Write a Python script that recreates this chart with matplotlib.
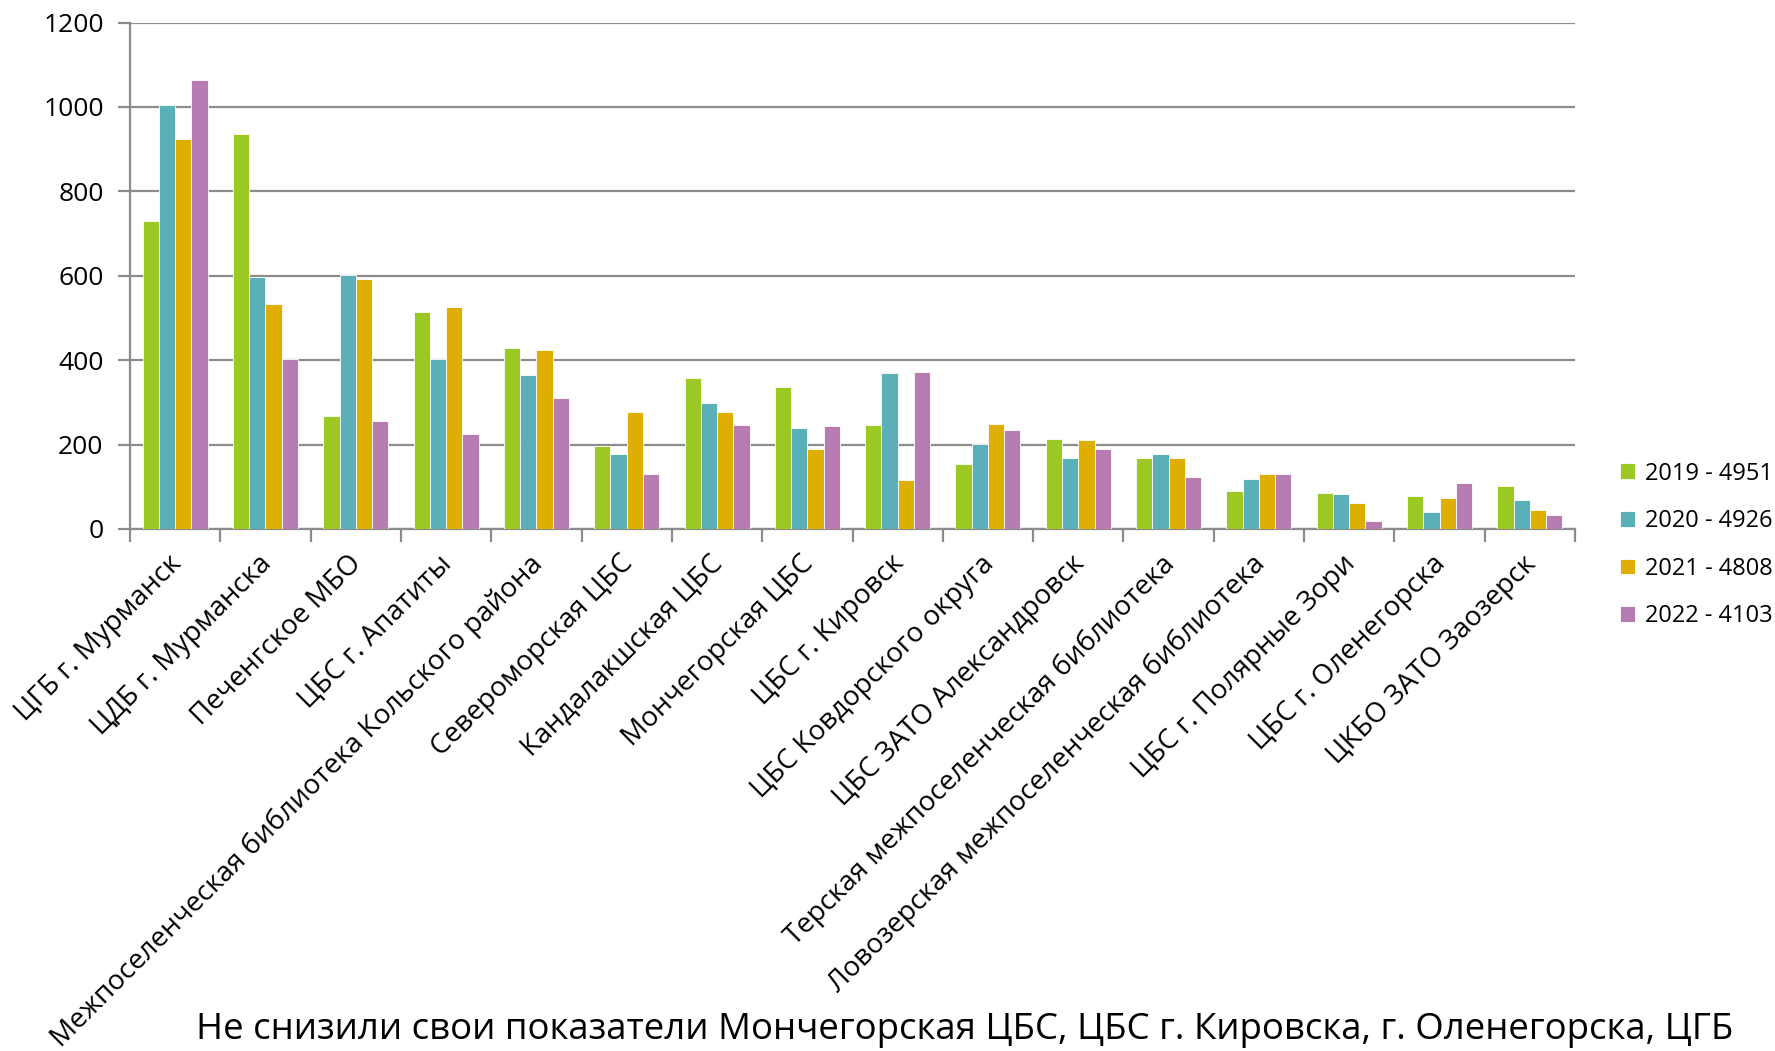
import matplotlib
matplotlib.use("Agg")
import matplotlib.pyplot as plt
import matplotlib.transforms as mtransforms
import numpy as np

plt.rcParams['font.family'] = ['Open Sans', 'DejaVu Sans']

categories = [
    "ЦГБ г. Мурманск", "ЦДБ г. Мурманска", "Печенгское МБО", "ЦБС г. Апатиты",
    "Межпоселенческая библиотека Кольского района", "Североморская ЦБС",
    "Кандалакшская ЦБС", "Мончегорская ЦБС", "ЦБС г. Кировск",
    "ЦБС Ковдорского округа", "ЦБС ЗАТО Александровск",
    "Терская межпоселенческая библиотека", "Ловозерская межпоселенческая библиотека",
    "ЦБС г. Полярные Зори", "ЦБС г. Оленегорска", "ЦКБО ЗАТО Заозерск",
]
series_labels = ["2019 - 4951", "2020 - 4926", "2021 - 4808", "2022 - 4103"]
v2019 = [731, 935, 268, 515, 428, 196, 358, 336, 247, 153, 213, 168, 90, 85, 78, 103]
v2020 = [1005, 598, 603, 403, 366, 177, 298, 240, 369, 202, 168, 177, 119, 82, 40, 68]
v2021 = [923, 534, 592, 525, 423, 277, 278, 189, 115, 249, 211, 168, 130, 62, 74, 45]
v2022 = [1063, 404, 255, 226, 311, 130, 247, 245, 372, 235, 189, 123, 130, 19, 109, 34]
colors = ["#9BC823", "#5BAFB8", "#DEAF00", "#B77CB2"]
title = "Не снизили свои показатели Мончегорская ЦБС, ЦБС г. Кировска, г. Оленегорска, ЦГБ"

W, H = 1775, 1051
fig = plt.figure(figsize=(W / 100, H / 100), dpi=100)
ax = fig.add_axes([130 / W, 1 - 529 / H, (1575 - 130) / W, (529 - 22.6) / H])

x = np.arange(len(categories))
bw = 0.18
for i, (vals, c, lab) in enumerate(zip([v2019, v2020, v2021, v2022], colors, series_labels)):
    ax.bar(x + (i - 1.5) * bw, vals, width=bw, color=c, edgecolor='white',
           linewidth=0.6, label=lab, zorder=3)

ax.set_xlim(-0.5, len(categories) - 0.5)
ax.set_ylim(0, 1200)
ax.set_yticks(np.arange(0, 1201, 200))
ax.yaxis.grid(True, color='#8C8C8C', linewidth=1.6, zorder=0)
ax.set_axisbelow(True)
for s in ['top', 'right']:
    ax.spines[s].set_visible(False)
for s in ['left', 'bottom']:
    ax.spines[s].set_color('#8C8C8C')
    ax.spines[s].set_linewidth(1.6)

ax.set_xticks(np.arange(-0.5, len(categories), 1.0))
ax.set_xticklabels([])
ax.set_xticks(x, minor=True)
ax.set_xticklabels(categories, minor=True, rotation=45, ha='right',
                   rotation_mode='anchor', fontsize=20)
ax.tick_params(axis='x', which='major', length=9, width=1.6, color='#8C8C8C', direction='out')
ax.tick_params(axis='x', which='minor', length=0, pad=15)
offset = mtransforms.ScaledTranslation(-8 / 100, 0, fig.dpi_scale_trans)
for lbl in ax.get_xticklabels(minor=True):
    lbl.set_transform(lbl.get_transform() + offset)
ax.tick_params(axis='y', length=9, width=1.6, color='#8C8C8C', direction='out',
               labelsize=19, pad=10)

ax.legend(loc='center left', bbox_to_anchor=(1620 / W, 1 - 545 / H),
          bbox_transform=fig.transFigure, frameon=False, fontsize=17,
          handlelength=0.65, handleheight=0.65, handletextpad=0.4, labelspacing=1.0,
          borderaxespad=0, borderpad=0)

fig.text(965 / W, 1 - 1030 / H, title, ha='center', va='center', fontsize=26.4)

fig.savefig("out.png", dpi=100)
